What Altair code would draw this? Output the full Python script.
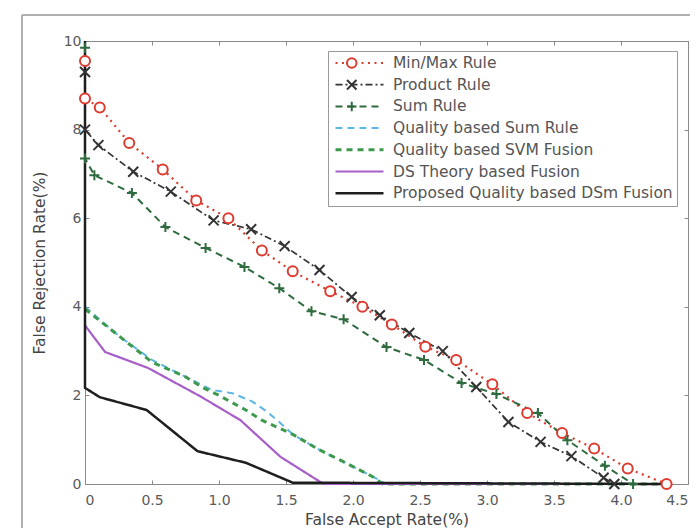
import altair as alt
import pandas as pd

series_names = [
    "Min/Max Rule",
    "Product Rule",
    "Sum Rule",
    "Quality based Sum Rule",
    "Quality based SVM Fusion",
    "DS Theory based Fusion",
    "Proposed Quality based DSm Fusion",
]

minmax_far = [0, 0, 0.11, 0.33, 0.58, 0.83, 1.07, 1.32, 1.55, 1.83, 2.07, 2.29, 2.54, 2.77, 3.04, 3.30, 3.56, 3.80, 4.05, 4.34]
minmax_frr = [9.55, 8.7, 8.5, 7.7, 7.1, 6.4, 6.0, 5.27, 4.8, 4.35, 4.0, 3.6, 3.1, 2.8, 2.25, 1.6, 1.15, 0.8, 0.35, 0]

product_far = [0, 0, 0.10, 0.36, 0.64, 0.96, 1.24, 1.49, 1.75, 1.99, 2.20, 2.42, 2.67, 2.92, 3.16, 3.40, 3.63, 3.87, 3.95]
product_frr = [9.3, 8.0, 7.65, 7.05, 6.6, 5.95, 5.75, 5.37, 4.83, 4.22, 3.81, 3.41, 3.0, 2.19, 1.4, 0.95, 0.63, 0.14, 0]

sum_far = [0, 0, 0.07, 0.35, 0.60, 0.90, 1.19, 1.45, 1.69, 1.93, 2.25, 2.53, 2.81, 3.07, 3.38, 3.60, 3.88, 4.09]
sum_frr = [9.85, 7.35, 6.97, 6.57, 5.8, 5.33, 4.9, 4.42, 3.9, 3.72, 3.09, 2.8, 2.28, 2.03, 1.6, 0.99, 0.41, 0]

qsum_far = [0, 0.25, 0.50, 0.75, 0.95, 1.10, 1.25, 1.35, 1.45, 1.55, 1.75, 1.95, 2.15, 2.25, 4.3]
qsum_frr = [4.0, 3.35, 2.8, 2.42, 2.12, 2.05, 1.86, 1.65, 1.4, 1.12, 0.77, 0.47, 0.16, 0, 0]

svm_far = [0, 0.25, 0.50, 0.75, 0.87, 1.00, 1.20, 1.32, 1.45, 1.55, 1.75, 1.95, 2.15, 2.22, 4.3]
svm_frr = [3.95, 3.35, 2.75, 2.42, 2.19, 2.0, 1.67, 1.44, 1.26, 1.12, 0.77, 0.47, 0.16, 0, 0]

ds_far = [0, 0.15, 0.47, 0.86, 1.16, 1.46, 1.78, 4.3]
ds_frr = [3.58, 2.98, 2.62, 1.98, 1.44, 0.61, 0, 0]

dsm_far = [0, 0, 0.11, 0.46, 0.84, 1.20, 1.55, 4.33]
dsm_frr = [10, 2.17, 1.96, 1.67, 0.74, 0.48, 0.03, 0]

x_ticks = [0, 0.5, 1.0, 1.5, 2.0, 2.5, 3.0, 3.5, 4.0, 4.5]
y_ticks = [0, 2, 4, 6, 8, 10]

colors = ["#dd3b2f", "#333333", "#2e6b3e", "#5cb6e4", "#3d9a4d", "#a75ec9", "#1e1e1e"]
dashes = [[2, 4.5], [7, 3, 2, 3], [7, 5], [7, 5], [6, 5], [1, 0], [1, 0]]
widths = [2.2, 1.7, 2.0, 2.0, 3.0, 2.2, 2.5]

marker_series = series_names[:3]
marker_colors = colors[:3]
marker_shapes = ["circle", "M-1,-1L1,1M-1,1L1,-1", "M-1,0L1,0M0,-1L0,1"]

all_data = [
    (minmax_far, minmax_frr),
    (product_far, product_frr),
    (sum_far, sum_frr),
    (qsum_far, qsum_frr),
    (svm_far, svm_frr),
    (ds_far, ds_frr),
    (dsm_far, dsm_frr),
]

rows = []
for name, (xs, ys) in zip(series_names, all_data):
    for i, (a, b) in enumerate(zip(xs, ys)):
        rows.append({"series": name, "far": a, "frr": b, "order": i})
df = pd.DataFrame(rows)

FONT = "DejaVu Sans"
xscale = alt.Scale(domain=[0, 4.5], nice=False, zero=False)
yscale = alt.Scale(domain=[0, 10], nice=False)

x_axis = alt.Axis(
    values=x_ticks, title="False Accept Rate(%)",
    labelExpr="datum.value == 0 ? '0' : format(datum.value, '.1f')",
    domain=False, grid=False, tickSize=4, offset=-4, tickColor="#888",
    labelPadding=9, labelFontSize=14, labelColor="#5a5a5a", labelFont=FONT,
    titleFontSize=15.5, titleFont=FONT, titleColor="#444", titleFontWeight="normal",
    titlePadding=5,
)
y_axis = alt.Axis(
    values=y_ticks, title="False Rejection Rate(%)",
    domain=False, grid=False, tickSize=4, offset=-4, tickColor="#888",
    labelPadding=4, labelFontSize=14, labelColor="#5a5a5a", labelFont=FONT,
    titleFontSize=15.5, titleFont=FONT, titleColor="#444", titleFontWeight="normal",
    titlePadding=16,
)

legend = alt.Legend(
    title=None, orient="none", legendX=243, legendY=10,
    symbolType="stroke", symbolSize=2304, clipHeight=16, rowPadding=4.7,
    symbolOffset=2, labelOffset=8, padding=4, labelLimit=0,
    symbolStrokeWidth=2,
    labelFontSize=15.5, labelFont=FONT, labelColor="#555",
    strokeColor="#999", fillColor="white", zindex=1,
)

marker_legend = alt.Legend(
    title=None, orient="none", legendX=255, legendY=10,
    clipHeight=16, rowPadding=4.7, symbolOffset=0, padding=4,
    labelFontSize=15.5, labelFont=FONT, labelExpr="''", labelLimit=0,
    symbolFillColor="white", symbolStrokeWidth=2, symbolSize=90, zindex=2,
)

lines = alt.Chart(df).mark_line().encode(
    x=alt.X("far:Q", scale=xscale, axis=x_axis),
    y=alt.Y("frr:Q", scale=yscale, axis=y_axis),
    color=alt.Color("series:N", scale=alt.Scale(domain=series_names, range=colors), sort=series_names, legend=legend),
    strokeDash=alt.StrokeDash("series:N", scale=alt.Scale(domain=series_names, range=dashes), sort=series_names, legend=legend),
    strokeWidth=alt.StrokeWidth("series:N", scale=alt.Scale(type="ordinal", domain=series_names, range=widths), sort=series_names, legend=legend),
    order="order:Q",
)

points = alt.Chart(df).transform_filter(
    alt.FieldOneOfPredicate(field="series", oneOf=marker_series)
).mark_point(filled=True, fill="white", strokeWidth=2, size=100, opacity=1).encode(
    x=alt.X("far:Q", scale=xscale, axis=None),
    y=alt.Y("frr:Q", scale=yscale, axis=None),
    stroke=alt.Stroke("series:N", scale=alt.Scale(domain=marker_series, range=marker_colors), sort=marker_series, legend=marker_legend),
    shape=alt.Shape("series:N", scale=alt.Scale(domain=marker_series, range=marker_shapes), sort=marker_series, legend=marker_legend),
)

frame_axes = alt.Chart(df).mark_point(opacity=0).encode(
    x=alt.X("far:Q", scale=xscale, axis=alt.Axis(orient="top", values=x_ticks, labels=False, title=None, domain=False, grid=False, tickSize=4, offset=-4, tickColor="#888")),
    y=alt.Y("frr:Q", scale=yscale, axis=alt.Axis(orient="right", values=y_ticks, labels=False, title=None, domain=False, grid=False, tickSize=4, offset=-4, tickColor="#888")),
)

frame_src = df[(df["series"] == "Sum Rule") & (df["order"] == 0)]
outer_left = alt.Chart(frame_src).mark_rule(stroke="#b0b0b0", strokeWidth=2).encode(
    x=alt.value(-63), y=alt.value(-26), y2=alt.value(560)
)
outer_top = alt.Chart(frame_src).mark_rule(stroke="#b0b0b0", strokeWidth=2).encode(
    x=alt.value(-63), x2=alt.value(720), y=alt.value(-26)
)

chart = alt.layer(outer_left, outer_top, lines, points, frame_axes).resolve_axis(
    x="independent", y="independent"
).properties(
    width=603, height=443,
    autosize=alt.AutoSizeParams(type="none"),
    padding={"left": 77, "top": 33, "right": 2, "bottom": 44},
).configure_view(stroke="#8a8a8a", strokeWidth=1)

chart.save("out.html", embed_options={"renderer": "svg", "actions": False})
